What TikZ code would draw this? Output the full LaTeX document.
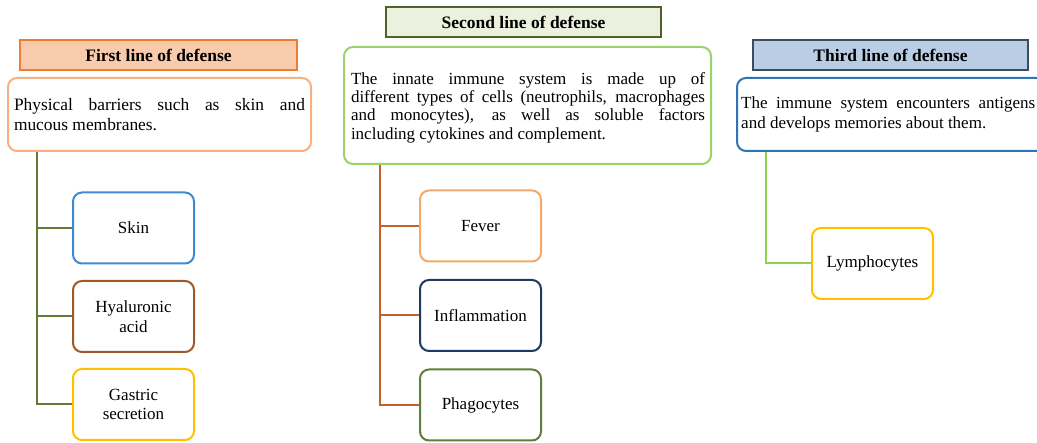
\documentclass[tikz,border=0pt]{standalone}
\usepackage{fontspec}
\setmainfont{Liberation Serif}
\definecolor{tOneFill}{HTML}{F8CBAD}
\definecolor{tOneDraw}{HTML}{ED7D31}
\definecolor{bOne}{HTML}{F4B183}
\definecolor{lOne}{HTML}{627A33}
\definecolor{cSkin}{HTML}{3D8BD0}
\definecolor{cHya}{HTML}{A0582A}
\definecolor{cGold}{HTML}{FFC000}
\definecolor{tTwoFill}{HTML}{EBF1DE}
\definecolor{tTwoDraw}{HTML}{4F6228}
\definecolor{bTwo}{HTML}{9BD26A}
\definecolor{lTwo}{HTML}{C0622A}
\definecolor{cFever}{HTML}{F6A868}
\definecolor{cInfl}{HTML}{203864}
\definecolor{cPhago}{HTML}{607D3B}
\definecolor{tThreeFill}{HTML}{B9CDE5}
\definecolor{tThreeDraw}{HTML}{3B4B60}
\definecolor{bThree}{HTML}{2E75B6}
\definecolor{lThree}{HTML}{92D050}
\begin{document}
\begin{tikzpicture}[x=1pt,y=-1pt,
  every node/.style={font=\fontsize{17}{19.5}\selectfont, inner sep=0pt},
  titlebox/.style={draw, line width=2pt, minimum height=30pt, font=\fontsize{17.5}{19.5}\selectfont\bfseries},
  descbox/.style={draw, line width=2pt, rounded corners=9pt, align=justify},
  itembox/.style={draw, line width=2pt, rounded corners=9pt, minimum width=121pt, minimum height=71pt, align=center},
  conn/.style={line width=2pt}]
\useasboundingbox (0,0) rectangle (1037,443);
\fill[white] (0,0) rectangle (1037,443);

% First line
\node[titlebox, fill=tOneFill, draw=tOneDraw, minimum width=277pt] (t1) at (158.5,55) {First line of defense};
\node[descbox, draw=bOne, minimum width=303pt, minimum height=73pt, text width=291pt, font=\fontsize{17.4}{19.5}\selectfont] (b1) at (159.5,114.5)
  {Physical barriers such as skin and\linebreak mucous membranes.};
\node[itembox, draw=cSkin] (skin) at (133.5,228) {Skin};
\node[itembox, draw=cHya] (hya) at (133.5,316.5) {Hyaluronic\\acid};
\node[itembox, draw=cGold] (gas) at (133.5,404.5) {Gastric\\secretion};
\draw[conn, lOne] ([xshift=30pt]b1.south west) |- (gas.west);
\draw[conn, lOne] ([xshift=30pt]b1.south west) |- (skin.west);
\draw[conn, lOne] ([xshift=30pt]b1.south west) |- (hya.west);

% Second line
\node[titlebox, fill=tTwoFill, draw=tTwoDraw, minimum width=275pt] (t2) at (523.5,22.5) {Second line of defense};
\node[draw=bTwo, line width=2pt, rounded corners=9pt, minimum width=367pt, minimum height=117pt] (b2) at (527.5,105.5) {};
\node[align=justify, text width=354pt, font=\fontsize{17}{18.3}\selectfont] (b2text) at (528,107.5)
  {The innate immune system is made up of\linebreak different types of cells (neutrophils, macrophages\linebreak and monocytes), as well as soluble factors\linebreak including cytokines and complement.};
\node[itembox, draw=cFever] (fev) at (480.5,226) {Fever};
\node[itembox, draw=cInfl] (inf) at (480.5,315.5) {Inflammation};
\node[itembox, draw=cPhago] (pha) at (480.5,405) {Phagocytes};
\draw[conn, lTwo] ([xshift=37pt]b2.south west) |- (pha.west);
\draw[conn, lTwo] ([xshift=37pt]b2.south west) |- (fev.west);
\draw[conn, lTwo] ([xshift=37pt]b2.south west) |- (inf.west);

% Third line
\node[titlebox, fill=tThreeFill, draw=tThreeDraw, minimum width=275pt] (t3) at (890.5,55) {Third line of defense};
\node[draw=bThree, line width=2pt, rounded corners=9pt, minimum width=308pt, minimum height=73pt] (b3) at (891,114.5) {};
\node[align=justify, text width=294pt, anchor=west] (b3text) at (741,114.5)
  {The immune system encounters antigens\linebreak and develops memories about them.};
\node[itembox, draw=cGold] (lym) at (872.5,263.5) {Lymphocytes};
\draw[conn, lThree] ([xshift=30pt]b3.south west) |- (lym.west);
\end{tikzpicture}
\end{document}
